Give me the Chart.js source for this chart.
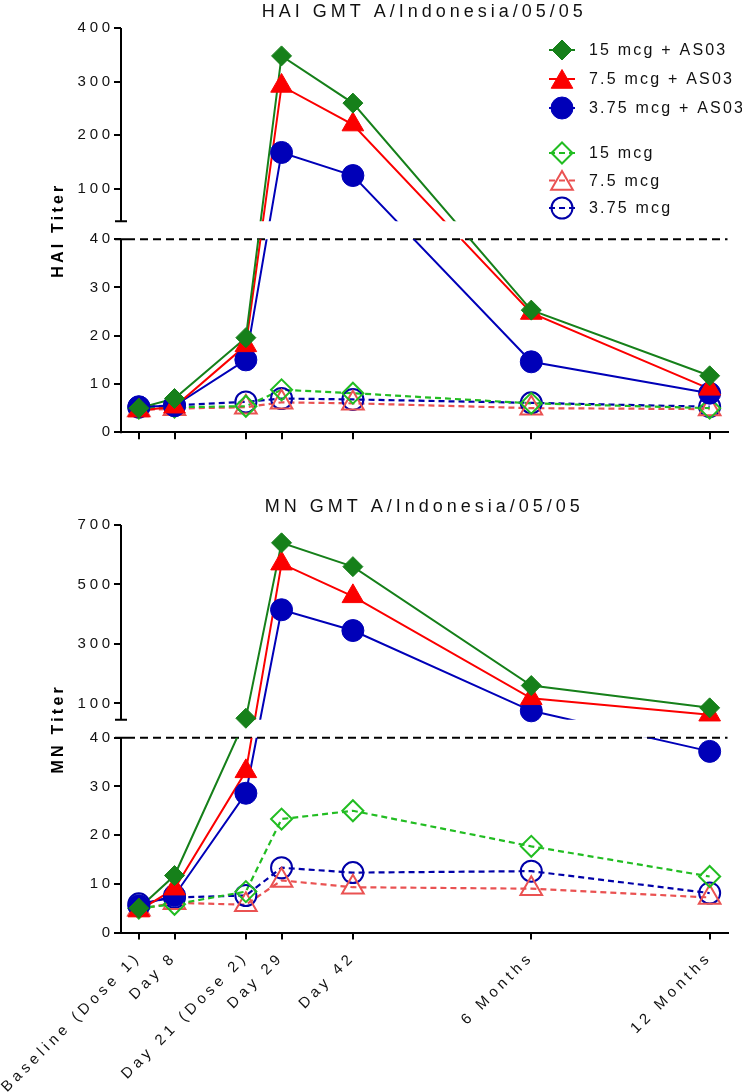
<!DOCTYPE html>
<html lang="en">
<head>
<meta charset="UTF-8">
<title>GMT A/Indonesia/05/05</title>
<script src="https://cdn.jsdelivr.net/npm/chart.js"></script>
<style>
  body { margin: 0; background: #fff; }
  canvas { position: absolute; left: 0; }
  #haiChart { top: 0; }
  #mnChart { top: 470px; }
</style>
</head>
<body>
<canvas id="haiChart" width="742" height="470"></canvas>
<canvas id="mnChart" width="742" height="622"></canvas>

<script>
// --- data -------------------------------------------------------------
const timeLabels = ['Baseline (Dose 1)', 'Day 8', 'Day 21 (Dose 2)', 'Day 29', 'Day 42', '6 Months', '12 Months'];
const timePos = [0, 1, 3, 4, 6, 11, 16];

const groupNames = ['15 mcg + AS03', '7.5 mcg + AS03', '3.75 mcg + AS03', '15 mcg', '7.5 mcg', '3.75 mcg'];

// HAI GMT
const hai15AS03 = [5.0, 7.0, 19.6, 348, 260, 25.3, 11.7];
const hai75AS03 = [4.5, 5.3, 18.0, 292, 220, 24.7, 9.0];
const hai375AS03 = [5.3, 5.5, 15.0, 168, 125, 14.6, 8.1];
const hai15 = [5.0, 5.2, 5.4, 8.8, 8.1, 6.0, 5.0];
const hai75 = [4.6, 4.9, 5.2, 6.2, 6.0, 5.0, 4.8];
const hai375 = [5.2, 5.6, 6.3, 7.0, 6.8, 6.1, 5.3];
const haiTicks = [0, 10, 20, 30, 40, 100, 200, 300, 400];

// MN GMT
const mn15AS03 = [5.0, 11.7, 50, 640, 560, 160, 85];
const mn75AS03 = [4.5, 9.0, 33.1, 570, 460, 117, 62];
const mn375AS03 = [5.5, 7.6, 28.6, 415, 345, 75, 37.2];
const mn15 = [5.0, 5.8, 8.4, 23.3, 25.0, 17.7, 11.5];
const mn75 = [4.8, 6.1, 5.7, 10.7, 9.3, 9.0, 7.2];
const mn375 = [5.9, 7.2, 7.6, 13.3, 12.3, 12.6, 8.1];
const mnTicks = [0, 10, 20, 30, 40, 100, 300, 500, 700];

const refLevel = 40;   // dashed threshold / axis break

// --- styles -----------------------------------------------------------
const groupStyles = [
  { color: '#16801a', style: 'rectRot', radius: 10, filled: true },
  { color: '#fb0000', style: 'triangle', radius: 12.5, filled: true },
  { color: '#0000b8', style: 'circle', radius: 11, filled: true },
  { color: '#22bd22', style: 'rectRot', radius: 10.5, filled: false },
  { color: '#ea5252', style: 'triangle', radius: 12.5, filled: false },
  { color: '#0000a8', style: 'circle', radius: 10.5, filled: false }
];

Chart.defaults.font.family = '"Liberation Sans", Arial, Helvetica, sans-serif';
Chart.defaults.color = '#111';

// linear scale with fixed tick values and spaced-out lettering
class FixedTickScale extends Chart.LinearScale {
  static id = 'fixedTicks';
  static defaults = {};
  buildTicks() {
    return this.options.tickValues.map(value => ({ value }));
  }
  withSpacing(px, fn) {
    const ctx = this.ctx;
    const prev = ctx.letterSpacing;
    ctx.letterSpacing = (px || 0) + 'px';
    fn();
    ctx.letterSpacing = prev;
  }
  drawLabels(area) { this.withSpacing(this.options.ticks.spacing, () => super.drawLabels(area)); }
  drawTitle() { this.withSpacing(this.options.title.spacing, () => super.drawTitle()); }
}

// y scale with a break: lower part 0..breakAt, upper part upMin..max
class BrokenScale extends FixedTickScale {
  static id = 'broken';
  static defaults = {};
  segments() {
    const o = this.options;
    const lowTop = this.bottom - (this.bottom - this.top - o.gap) * o.lowShare;
    return { lowTop, upBottom: lowTop - o.gap };
  }
  getPixelForValue(value) {
    const o = this.options;
    const s = this.segments();
    if (value <= o.breakAt) {
      return this.bottom - (value - this.min) / (o.breakAt - this.min) * (this.bottom - s.lowTop);
    }
    return s.upBottom - (value - o.upMin) / (this.max - o.upMin) * (s.upBottom - this.top);
  }
  getValueForPixel(pixel) {
    const o = this.options;
    const s = this.segments();
    if (pixel >= s.lowTop) {
      return this.min + (this.bottom - pixel) / (this.bottom - s.lowTop) * (o.breakAt - this.min);
    }
    return o.upMin + (s.upBottom - pixel) / (s.upBottom - this.top) * (this.max - o.upMin);
  }
}

Chart.register(FixedTickScale, BrokenScale);

const titleSpacing = '4px';

// broken axis, threshold line and clipping of lines through the gap
const brokenAxis = {
  id: 'brokenAxis',
  beforeDraw(chart) {
    chart.ctx.letterSpacing = titleSpacing;
  },
  beforeDatasetsDraw(chart) {
    const { ctx, chartArea: a, scales: { y } } = chart;
    const s = y.segments();
    ctx.save();
    ctx.strokeStyle = '#000';
    ctx.lineWidth = 2;
    ctx.beginPath();
    ctx.moveTo(a.left, a.top);
    ctx.lineTo(a.left, s.upBottom);
    ctx.moveTo(a.left - 6, s.upBottom);
    ctx.lineTo(a.left + 6, s.upBottom);
    ctx.moveTo(a.left, s.lowTop);
    ctx.lineTo(a.left, a.bottom + 1);
    ctx.moveTo(a.left - 6, s.lowTop);
    ctx.lineTo(a.left + 6, s.lowTop);
    ctx.stroke();

    const yRef = y.getPixelForValue(refLevel);
    ctx.setLineDash([8, 5]);
    ctx.beginPath();
    ctx.moveTo(a.left + 6, yRef);
    ctx.lineTo(a.right, yRef);
    ctx.stroke();
    ctx.restore();
  },
  beforeDatasetDraw(chart, args) {
    if (!chart.data.datasets[args.index].brokenLine) return;
    const { ctx, chartArea: a, scales: { y } } = chart;
    const s = y.segments();
    ctx.save();
    ctx.beginPath();
    ctx.rect(a.left, a.top - 20, a.right - a.left, s.upBottom - a.top + 20);
    ctx.rect(a.left, s.lowTop, a.right - a.left, a.bottom - s.lowTop + 20);
    ctx.clip();
  },
  afterDatasetDraw(chart, args) {
    if (!chart.data.datasets[args.index].brokenLine) return;
    chart.ctx.restore();
  }
};

// legend with marker + line sample
const groupLegend = {
  id: 'groupLegend',
  afterDraw(chart) {
    const ctx = chart.ctx;
    const markerX = 562;
    ctx.save();
    groupNames.forEach((name, i) => {
      const g = groupStyles[i];
      const yy = 50 + i * 29 + (i >= 3 ? 16 : 0) - (i >= 4 ? (i - 3) * 1.5 : 0);
      ctx.strokeStyle = g.color;
      ctx.lineWidth = 2;
      ctx.setLineDash(g.filled ? [] : [6, 4]);
      ctx.beginPath();
      ctx.moveTo(markerX - 13, yy);
      ctx.lineTo(markerX + 13, yy);
      ctx.stroke();
      ctx.setLineDash([]);
      ctx.fillStyle = g.filled ? g.color : 'rgba(0,0,0,0)';
      ctx.lineWidth = g.filled ? 1 : 2;
      const dy = g.style === 'triangle' ? 3 : 0;
      Chart.helpers.drawPoint(ctx, { pointStyle: g.style, radius: g.radius, borderWidth: ctx.lineWidth, rotation: 0 }, markerX, yy + dy);

      ctx.letterSpacing = '2.2px';
      ctx.font = '16px "Liberation Sans", Arial, sans-serif';
      ctx.fillStyle = '#111';
      ctx.textAlign = 'left';
      ctx.textBaseline = 'middle';
      ctx.fillText(name, 589, yy + 1);
    });
    ctx.restore();
  }
};

function buildDatasets(seriesList) {
  const sets = [];
  seriesList.forEach((vals, i) => {
    const g = groupStyles[i];
    const pts = timePos.map((x, k) => ({ x, y: vals[k] }));
    sets.push({
      label: groupNames[i] + ' line',
      data: pts,
      brokenLine: true,
      borderColor: g.color,
      borderWidth: g.filled ? 2 : 2.2,
      borderDash: g.filled ? [] : [6, 4],
      pointRadius: 0,
      fill: false,
      order: 10 + i
    });
    sets.push({
      label: groupNames[i],
      data: pts,
      showLine: false,
      pointStyle: g.style,
      pointRadius: g.radius,
      pointBackgroundColor: g.filled ? g.color : 'rgba(0,0,0,0)',
      pointBorderColor: g.color,
      pointBorderWidth: g.filled ? 1 : 2,
      order: i
    });
  });
  return sets;
}

function makeChart(canvasId, cfg) {
  return new Chart(document.getElementById(canvasId), {
    type: 'line',
    data: { datasets: buildDatasets(cfg.series) },
    plugins: cfg.legend ? [brokenAxis, groupLegend] : [brokenAxis],
    options: {
      responsive: false,
      animation: false,
      events: [],
      layout: { padding: { top: cfg.padTop, right: 14, left: 0, bottom: 0 } },
      plugins: {
        legend: { display: false },
        tooltip: { enabled: false },
        title: {
          display: true,
          text: cfg.title,
          fullSize: false,
          color: '#111',
          font: { size: 18, weight: 'normal', lineHeight: 1 },
          padding: { top: 0, bottom: cfg.titleGap }
        }
      },
      scales: {
        x: {
          type: 'fixedTicks',
          min: -0.5,
          max: 16.5,
          tickValues: timePos,
          afterFit(s) { s.height = cfg.xHeight; s.paddingLeft = 0; s.paddingRight = 0; },
          border: { display: true, color: '#000', width: 2 },
          grid: { display: true, drawOnChartArea: false, drawTicks: true, tickLength: 7, lineWidth: 2, color: '#000' },
          ticks: {
            display: cfg.xLabels,
            autoSkip: false,
            minRotation: 45,
            maxRotation: 45,
            padding: 9,
            spacing: 4.2,
            color: '#111',
            font: { size: 15 },
            callback: v => timeLabels[timePos.indexOf(v)]
          }
        },
        y: {
          type: 'broken',
          min: 0,
          max: cfg.yMax,
          breakAt: refLevel,
          upMin: cfg.upMin,
          gap: 18,
          lowShare: 0.5,
          tickValues: cfg.yTicks,
          afterFit(s) { s.width = 121; s.paddingTop = 0; s.paddingBottom = 0; },
          border: { display: false },
          grid: { display: true, drawOnChartArea: false, drawTicks: true, tickLength: 7, lineWidth: 2, color: '#000' },
          ticks: { autoSkip: false, padding: 0, spacing: 3.8, color: '#111', font: { size: 15 }, callback: v => String(v) },
          title: {
            display: true,
            text: cfg.yTitle,
            color: '#000',
            spacing: 3.2,
            font: { size: 16, weight: 'bold' },
            padding: { top: 49, bottom: 0 }
          }
        }
      }
    }
  });
}

makeChart('haiChart', {
  title: 'HAI GMT A/Indonesia/05/05',
  yTitle: 'HAI Titer',
  series: [hai15AS03, hai75AS03, hai375AS03, hai15, hai75, hai375],
  yTicks: haiTicks,
  yMax: 400,
  upMin: 40,
  padTop: 3,
  titleGap: 7,
  xHeight: 37.7,
  xLabels: false,
  legend: true
});

makeChart('mnChart', {
  title: 'MN GMT A/Indonesia/05/05',
  yTitle: 'MN Titer',
  series: [mn15AS03, mn75AS03, mn375AS03, mn15, mn75, mn375],
  yTicks: mnTicks,
  yMax: 700,
  upMin: 45,
  padTop: 28,
  titleGap: 9,
  xHeight: 159.5,
  xLabels: true,
  legend: false
});
</script>
</body>
</html>
